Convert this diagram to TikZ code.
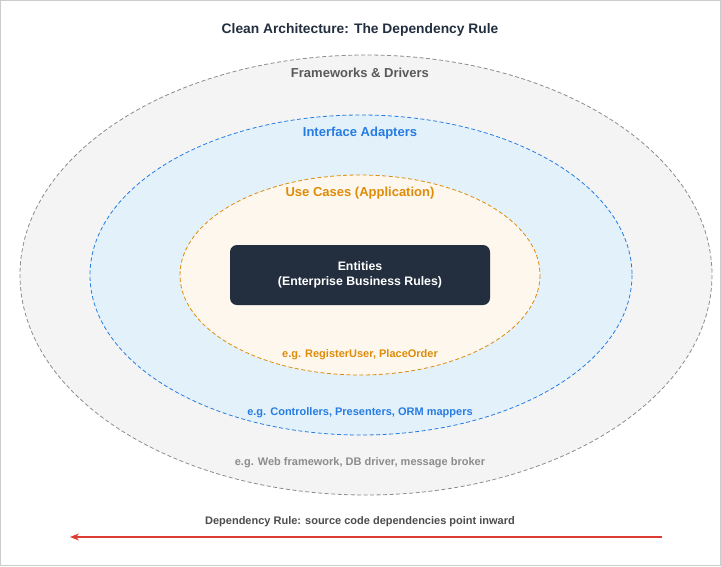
\documentclass[tikz,border=0pt]{standalone}
\usepackage{fontspec}
\setmainfont{Liberation Sans}
\usetikzlibrary{arrows.meta}
\definecolor{outerfill}{RGB}{244,244,244}
\definecolor{outerline}{RGB}{140,140,140}
\definecolor{adapterfill}{RGB}{227,241,251}
\definecolor{adapterblue}{RGB}{38,124,226}
\definecolor{casefill}{RGB}{254,247,238}
\definecolor{caseorange}{RGB}{222,140,10}
\definecolor{entitydark}{RGB}{35,47,62}
\definecolor{titledark}{RGB}{35,47,62}
\definecolor{rulered}{RGB}{220,60,50}

\tikzset{
  ring/.style={dashed, line width=0.8pt, dash pattern=on 4pt off 2.5pt},
  ringlabel/.style={font=\bfseries\fontsize{13}{15}\selectfont},
  examplelabel/.style={font=\bfseries\fontsize{11}{13}\selectfont}
}

\begin{document}
\begin{tikzpicture}[x=1pt,y=-1pt]
    \useasboundingbox (0,0) rectangle (721,566);
    \draw[gray!40, line width=0.8pt] (0.5,0.5) rectangle (720.5,565.5);

    % Title
    \node[titledark, font=\bfseries\fontsize{13.8}{15}\selectfont] (title) at (360,30) {Clean Architecture: The Dependency Rule};

    % Rings
    \draw[ring, outerline, fill=outerfill] (366,275) ellipse [x radius=346, y radius=220];
    \draw[ring, adapterblue, fill=adapterfill] (361,275) ellipse [x radius=271, y radius=160];
    \draw[ring, caseorange, fill=casefill] (360,275) ellipse [x radius=180, y radius=100];

    % Ring labels
    \node[ringlabel, black!65] (frameworks) at (360,73) {Frameworks \& Drivers};
    \node[ringlabel, adapterblue] (adapters) at (360,133) {Interface Adapters};
    \node[ringlabel, caseorange] (usecases) at (360,193) {Use Cases (Application)};

    % Core
    \node[fill=entitydark, rounded corners=7pt, minimum width=260pt, minimum height=60pt,
          text=white, align=center, font=\bfseries\fontsize{12.3}{15}\selectfont] (entities) at (360,275)
          {Entities\\(Enterprise Business Rules)};

    % Examples
    \node[examplelabel, caseorange] (caseex) at (360,355) {e.g. RegisterUser, PlaceOrder};
    \node[examplelabel, adapterblue] (adapterex) at (360,413) {e.g. Controllers, Presenters, ORM mappers};
    \node[examplelabel, black!45] (frameex) at (360,463) {e.g. Web framework, DB driver, message broker};

    % Dependency rule
    \node[examplelabel, black!70] (rule) at (360,522) {Dependency Rule: source code dependencies point inward};
    \coordinate (rulestart) at (662,537);
    \coordinate (ruleend) at (70,537);
    \draw[rulered, line width=1.2pt, -{Stealth[length=9pt,width=7pt]}] (rulestart) -- (ruleend);
\end{tikzpicture}
\end{document}
